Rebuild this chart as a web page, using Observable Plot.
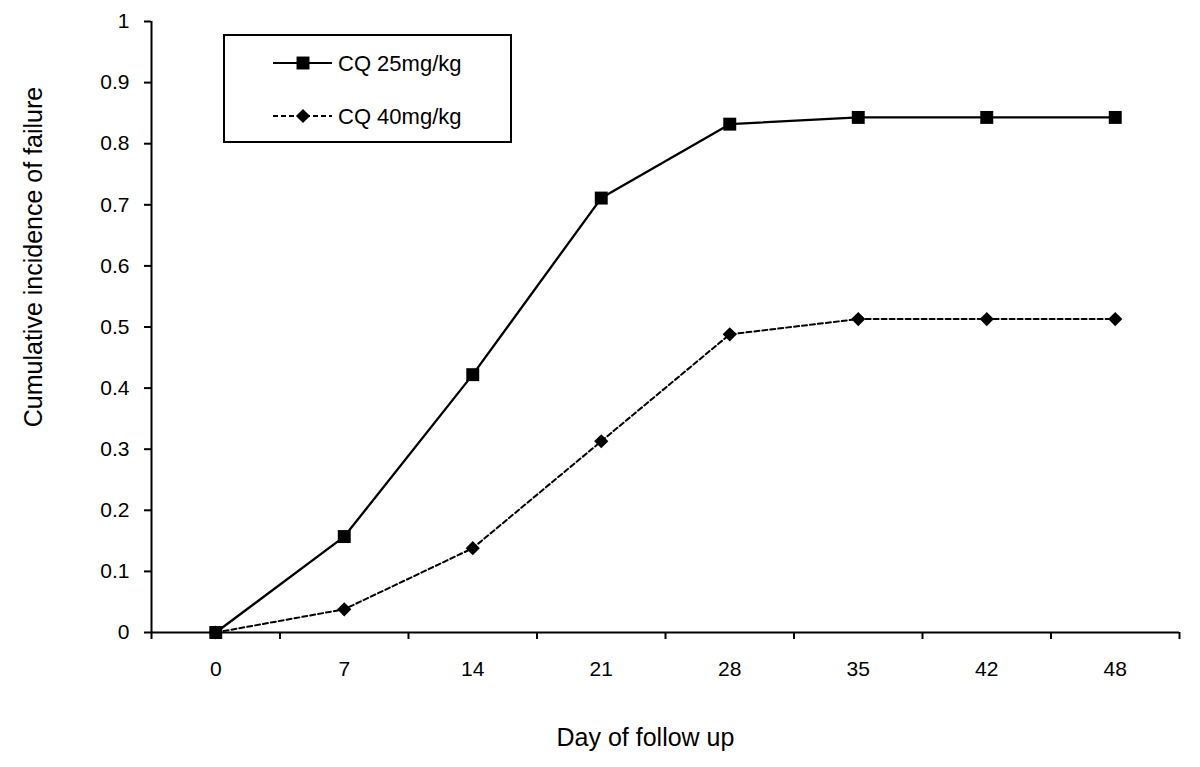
<!DOCTYPE html>
<html>
<head>
<meta charset="utf-8">
<script src="https://cdn.jsdelivr.net/npm/d3@7"></script>
<script src="https://cdn.jsdelivr.net/npm/@observablehq/plot@0.6"></script>
<style>
  html, body { margin: 0; padding: 0; background: #fff; }
  #chart svg { display: block; }
</style>
</head>
<body>
<div id="chart"></div>
<script>
// ---- data ----
const days = ["0", "7", "14", "21", "28", "35", "42", "48"];
const seriesNames = ["CQ 25mg/kg", "CQ 40mg/kg"];
const cq25 = [0, 0.157, 0.422, 0.711, 0.832, 0.843, 0.843, 0.843];
const cq40 = [0, 0.038, 0.138, 0.313, 0.488, 0.513, 0.513, 0.513];
const yTicks = [0, 0.1, 0.2, 0.3, 0.4, 0.5, 0.6, 0.7, 0.8, 0.9, 1];
const xTitle = "Day of follow up";
const yTitle = "Cumulative incidence of failure";

// table built from the arrays
const rows = [];
[cq25, cq40].forEach((vals, s) => vals.forEach((v, i) => rows.push({i, day: days[i], value: v, series: seriesNames[s]})));
const s1 = rows.filter(d => d.series === seriesNames[0]);
const s2 = rows.filter(d => d.series === seriesNames[1]);

const idx = d3.range(days.length);
const bounds = d3.range(days.length + 1).map(i => i - 0.5);
const font = "'Liberation Sans', Arial, sans-serif";

const chart = Plot.plot({
  width: 1200,
  height: 767,
  marginLeft: 151,
  marginRight: 21,
  marginTop: 21,
  marginBottom: 135,
  style: {fontFamily: font, fontSize: "21px", background: "white", color: "black"},
  x: {type: "linear", domain: [-0.5, days.length - 0.5], axis: null, label: null},
  y: {domain: [0, 1], axis: null, label: null},
  marks: [
    // axis lines
    Plot.ruleY([0], {stroke: "black", strokeWidth: 2}),
    Plot.ruleX([-0.5], {stroke: "black", strokeWidth: 2}),
    // x axis: boundary ticks + centered labels
    Plot.axisX(bounds, {tickSize: 7, strokeWidth: 2, tickFormat: () => "", anchor: "bottom", label: null}),
    Plot.axisX(idx, {tickSize: 0, tickPadding: 29, tickFormat: i => days[i], fontSize: 21, anchor: "bottom", label: null}),
    // y axis
    Plot.axisY(yTicks, {tickSize: 7, strokeWidth: 2, tickPadding: 15, tickFormat: d => String(+d.toFixed(1)), fontSize: 21, anchor: "left", label: null}),
    // titles
    Plot.text([xTitle], {frameAnchor: "bottom", dx: -20, dy: 105, fontSize: 25, textAnchor: "middle", lineAnchor: "middle"}),
    Plot.text([yTitle], {frameAnchor: "left", dx: -118, dy: -70, rotate: -90, fontSize: 25, textAnchor: "middle", lineAnchor: "middle"}),
    // series
    Plot.line(s1, {x: "i", y: "value", stroke: "black", strokeWidth: 2.3}),
    Plot.line(s2, {x: "i", y: "value", stroke: "black", strokeWidth: 2, strokeDasharray: "5,3"}),
    Plot.dot(s1, {x: "i", y: "value", symbol: "square", r: 7.3, fill: "black", stroke: "none"}),
    Plot.dot(s2, {x: "i", y: "value", symbol: "diamond2", r: 6.4, fill: "black", stroke: "none"})
  ]
});

// legend inside the plot area
const svg = d3.select(chart);
const lg = svg.append("g").attr("class", "legend").attr("text-anchor", "start");
lg.append("rect").attr("x", 224).attr("y", 35).attr("width", 287).attr("height", 107)
  .attr("fill", "white").attr("stroke", "black").attr("stroke-width", 2);
const legendItems = [
  {name: seriesNames[0], dash: null, symbol: d3.symbolSquare, r: 7.3},
  {name: seriesNames[1], dash: "5,3", symbol: d3.symbolDiamond2, r: 6.4}
];
legendItems.forEach((it, k) => {
  const y = k === 0 ? 63 : 116;
  lg.append("line").attr("x1", 273).attr("x2", 332).attr("y1", y).attr("y2", y)
    .attr("stroke", "black").attr("stroke-width", 2).attr("stroke-dasharray", it.dash);
  lg.append("path").attr("transform", `translate(303,${y})`)
    .attr("d", d3.symbol(it.symbol, Math.PI * it.r * it.r)()).attr("fill", "black");
  lg.append("text").attr("x", 338).attr("y", y).attr("dy", "0.35em")
    .attr("text-anchor", "start")
    .attr("font-family", font).attr("font-size", 22).attr("fill", "black").text(it.name);
});

document.getElementById("chart").appendChild(chart);
</script>
</body>
</html>
